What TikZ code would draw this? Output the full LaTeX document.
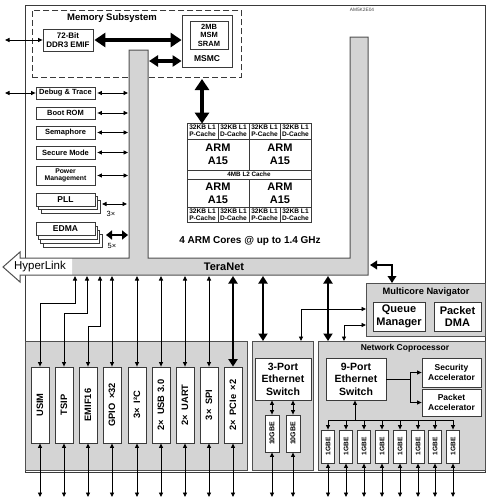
\documentclass[tikz,border=0pt]{standalone}
\usepackage{fontspec}
\usepackage{graphicx}
\setmainfont{Liberation Sans}
\usetikzlibrary{arrows.meta,calc}
\definecolor{bdr}{HTML}{3A3A3A}
\definecolor{gbdr}{HTML}{505050}
\definecolor{gfill}{HTML}{D4D4D4}
\newcommand\fsz[2]{\fontsize{#1}{#2}\selectfont}
\begin{document}
\begin{tikzpicture}[x=1pt,y=-1pt,
  box/.style={draw=bdr, fill=white, line width=0.8pt, inner sep=0pt, align=center, font=\bfseries},
  gbox/.style={draw=gbdr, fill=gfill, line width=1pt, inner sep=0pt},
  lbl/.style={inner sep=0pt, align=center},
  tarr/.style={line width=0.9pt, >={Triangle[length=4.5pt,width=4pt]}, <->},
  tone/.style={line width=0.9pt, >={Triangle[length=4.5pt,width=4pt]}, ->},
  thk/.style={line width=2.4pt, >={Triangle[length=7.5pt,width=9pt]}, <->},
  big/.style={line width=3.5pt, >={Triangle[length=9pt,width=11pt]}, <->},
  huge/.style={line width=4.8pt, >={Triangle[length=11pt,width=14pt]}, <->}]
\useasboundingbox (0,0) rectangle (490,498);

% chip outline
\node[draw=bdr, line width=0.8pt, minimum width=460, minimum height=467, anchor=north west, inner sep=0pt] (chip) at (25,5) {};
\node[lbl, font=\fsz{4.8}{5}, text=black!75] (partno) at (362,10) {AM5K2E04};

% memory subsystem
\node[draw=bdr, dash pattern=on 6pt off 3pt, line width=0.8pt, minimum width=209, minimum height=67, anchor=north west, inner sep=0pt] (memsys) at (32,10) {};
\node[lbl, font=\bfseries\fsz{9.5}{10}] (memt) at (112,18) {Memory Subsystem};
\node[box, minimum width=50, minimum height=22, font=\bfseries\fsz{8}{9}] (ddr) at (68,40) {72-Bit\\DDR3 EMIF};
\node[box, minimum width=50, minimum height=52] (msmc) at (207,41) {};
\node[box, minimum width=38, minimum height=28, font=\bfseries\fsz{7.5}{8.5}] (sram) at (209,35) {2MB\\MSM\\SRAM};
\node[lbl, font=\bfseries\fsz{8.5}{9}] (msmct) at (207,59) {MSMC};

% TeraNet shape with HyperLink
\fill[gfill] (20,258) -- (129,258) -- (129,50) -- (148,50) -- (148,258) -- (350,258) -- (350,37) -- (368,37) -- (368,275) -- (20,275) -- cycle;
\fill[white] (3,267) -- (20,252) -- (20,258) -- (72,258) -- (72,275) -- (20,275) -- (20,282) -- cycle;
\draw[gbdr, line width=1pt] (3,267) -- (20,252) -- (20,258) -- (129,258) -- (129,50) -- (148,50) -- (148,258) -- (350,258) -- (350,37) -- (368,37) -- (368,275) -- (20,275) -- (20,282) -- cycle;
\node[lbl, font=\fsz{11.5}{12}] (hl) at (40,267) {HyperLink};
\node[lbl, font=\bfseries\fsz{11}{12}] (tn) at (224,267) {TeraNet};
\coordinate (barL) at (129,0);
\coordinate (extL) at (5,0);
\coordinate (tnb) at (0,276);
\coordinate (bot) at (0,497);

% left modules
\tikzset{lmod/.style={box, minimum width=59, font=\bfseries\fsz{7.5}{8}}}
\node[lmod, minimum height=12] (dbg) at (65.5,93) {Debug \& Trace};
\node[lmod, minimum height=12] (boot) at (65.5,113) {Boot ROM};
\node[lmod, minimum height=13] (sem) at (65.5,132.5) {Semaphore};
\node[lmod, minimum height=13] (sec) at (65.5,152.5) {Secure Mode};
\node[lmod, minimum height=19, font=\bfseries\fsz{6.8}{7.6}] (pwr) at (65.5,175.5) {Power\\Management};
\foreach \i in {2,1} \node[lmod, minimum height=13] (pll\i) at ({65.5+\i*2.5},{199.5+\i*3.5}) {};
\node[lmod, minimum height=13, font=\bfseries\fsz{8.5}{9}] (pll) at (65.5,199.5) {PLL};
\foreach \i in {3,2,1} \node[lmod, minimum height=13] (edma\i) at ({65.5+\i*2.3},{228.5+\i*4}) {};
\node[lmod, minimum height=13, font=\bfseries\fsz{8.5}{9}] (edma) at (65.5,228.5) {EDMA};

\foreach \n in {dbg,boot,sem,sec,pwr} \draw[tarr] ([xshift=2pt]\n.east) -- ([xshift=-1pt]\n.east -| barL);
\draw[tarr] (extL |- ddr.west) -- (ddr.west);
\draw[tarr] (extL |- dbg.west) -- (dbg.west);
\coordinate (pllA) at (102,204);
\draw[tarr] (pllA) -- ([xshift=-2pt]pllA -| barL);
\node[lbl, font=\fsz{7.5}{8}] (pllx) at (111,214) {3×};
\coordinate (edmaA) at (106,235);
\draw[thk, >={Triangle[length=6pt,width=9pt]}] (edmaA) -- ([xshift=-1pt]edmaA -| barL);
\node[lbl, font=\fsz{7.5}{8}] (edmax) at (112,246) {5×};

% memory arrows
\draw[huge] ([xshift=1pt]ddr.east) -- (ddr.east -| msmc.west);
\coordinate (mbar) at (149,61);
\draw[big] (mbar) -- (mbar -| msmc.west);

% ARM cluster
\tikzset{cache/.style={box, minimum width=31, font=\bfseries\fsz{6.6}{7}},
  arm/.style={box, minimum width=62, font=\bfseries\fsz{11}{13}}}
\foreach \x/\t [count=\i] in {202.5/P,233.5/D,264.5/P,295.5/D} {
  \node[cache, minimum height=16] (ct\i) at (\x,131) {32KB L1\\\t-Cache};
  \node[cache, minimum height=15] (cb\i) at (\x,214.5) {32KB L1\\\t-Cache};
}
\node[arm, minimum height=31] (arm1) at (218,154.5) {ARM\\A15};
\node[arm, minimum height=31] (arm2) at (280,154.5) {ARM\\A15};
\node[box, minimum width=124, minimum height=9, font=\bfseries\fsz{6.3}{7}] (l2) at (249,174.5) {4MB L2 Cache};
\node[arm, minimum height=28] (arm3) at (218,193) {ARM\\A15};
\node[arm, minimum height=28] (arm4) at (280,193) {ARM\\A15};
\node[lbl, font=\bfseries\fsz{10}{11}] (cores) at (250,241) {4 ARM Cores @ up to 1.4 GHz};
\coordinate (ma) at (202,79);
\draw[huge] (ma) -- ([yshift=-1pt]ma |- ct1.north);

% Multicore Navigator
\node[gbox, minimum width=119, minimum height=53, anchor=north west] (nav) at (366,283) {};
\node[lbl, font=\bfseries\fsz{9.3}{10}] (navt) at (426,292) {Multicore Navigator};
\node[box, minimum width=52, minimum height=29, font=\bfseries\fsz{11}{12.5}] (qm) at (399,316.5) {Queue\\Manager};
\node[box, minimum width=47, minimum height=29, font=\bfseries\fsz{11}{12.5}] (pdma) at (457.5,316.5) {Packet\\DMA};
\coordinate (bentA) at (370,265);
\coordinate (bentB) at (392,265);
\draw[thk, >={Triangle[length=7pt,width=8.5pt]}] (bentA) -- (bentB) -- (bentB |- nav.north);

% lower boxes
\node[gbox, minimum width=222, minimum height=129, anchor=north west] (per) at (25,341) {};
\node[gbox, minimum width=61, minimum height=129, anchor=north west] (p3) at (252,341) {};
\node[gbox, minimum width=167, minimum height=129, anchor=north west] (ncp) at (318,341) {};

\coordinate (e1) at (301,309);
\draw[tarr] (nav.west |- e1) -| (e1 |- p3.north);
\coordinate (e2) at (344,325);
\draw[tarr] (nav.west |- e2) -| (e2 |- ncp.north);
\coordinate (t3) at (263,276);
\draw[thk] (t3) -- (t3 |- p3.north);
\coordinate (t4) at (328,276);
\draw[thk] (t4) -- (t4 |- ncp.north);

% peripherals
\foreach \n/\x/\t in {usim/40/USIM, tsip/64/TSIP, emif/88/EMIF16, gpio/112/{GPIO\enspace×32}, i2c/137/{3×\enspace I²C}, usb/161/{2×\enspace USB 3.0}, uart/185/{2×\enspace UART}, spi/209/{3×\enspace SPI}, pcie/233/{2×\enspace PCIe\enspace×2}}
  \node[box, minimum width=18, minimum height=76, font=\bfseries\fsz{9.3}{10}] (\n) at (\x,405) {\rotatebox{90}{\t}};
\coordinate (u1) at (75,303);
\coordinate (u2) at (87,313);
\coordinate (u3) at (100,326);
\draw[tarr] (usim.north) |- (u1) -- (u1 |- tnb);
\draw[tarr] (tsip.north) |- (u2) -- (u2 |- tnb);
\draw[tarr] (emif.north) |- (u3) -- (u3 |- tnb);
\foreach \n in {gpio,i2c,usb,uart,spi} \draw[tarr] (\n.north) -- (\n.north |- tnb);
\draw[thk] (pcie.north) -- (pcie.north |- tnb);
\foreach \n in {usim,tsip,emif,gpio,i2c,usb,uart,spi,pcie} \draw[tarr] (\n.south) -- (\n.south |- bot);

% 3-port switch
\node[box, minimum width=56, minimum height=42, font=\bfseries\fsz{10.5}{12.5}] (sw3) at (283,379) {3-Port\\Ethernet\\Switch};
\foreach \n/\x in {xg1/272, xg2/293} {
  \node[box, minimum width=14, minimum height=37, font=\bfseries\fsz{7}{7.5}] (\n) at (\x,433.5) {\rotatebox{90}{10GBE}};
  \draw[tarr] (sw3.south -| \n) -- (\n.north);
  \draw[tarr] (\n.south) -- (\n.south |- bot);
}

% network coprocessor
\node[lbl, font=\bfseries\fsz{8.5}{9}] (ncpt) at (405,348) {Network Coprocessor};
\node[box, minimum width=60, minimum height=42, font=\bfseries\fsz{10.5}{12.5}] (sw9) at (356,379) {9-Port\\Ethernet\\Switch};
\node[box, minimum width=59, minimum height=29, font=\bfseries\fsz{8.5}{10}] (seca) at (451.5,372.5) {Security\\Accelerator};
\node[box, minimum width=59, minimum height=27, font=\bfseries\fsz{8.5}{10}] (pacc) at (451.5,402.5) {Packet\\Accelerator};
\coordinate (br) at (410,378);
\draw[line width=0.9pt] (sw9.east) -- (sw9.east -| br);
\draw[tone] (sw9.east -| br) |- (seca.west);
\draw[tone] (sw9.east -| br) |- (pacc.west);
\coordinate (hub) at (355,420);
\foreach \x [count=\i] in {328,346,364,382,400,418,435,453} {
  \node[box, minimum width=13.5, minimum height=33, font=\bfseries\fsz{6.6}{7}] (g\i) at (\x,446.5) {\rotatebox{90}{1GBE}};
  \draw[tone] (g\i.north |- hub) -- (g\i.north);
  \draw[tarr] (g\i.south) -- (g\i.south |- bot);
}
\draw[line width=0.9pt] (g1.north |- hub) -- (g8.north |- hub);
\draw[tone] (hub) -- (hub |- sw9.south);
\end{tikzpicture}
\end{document}
